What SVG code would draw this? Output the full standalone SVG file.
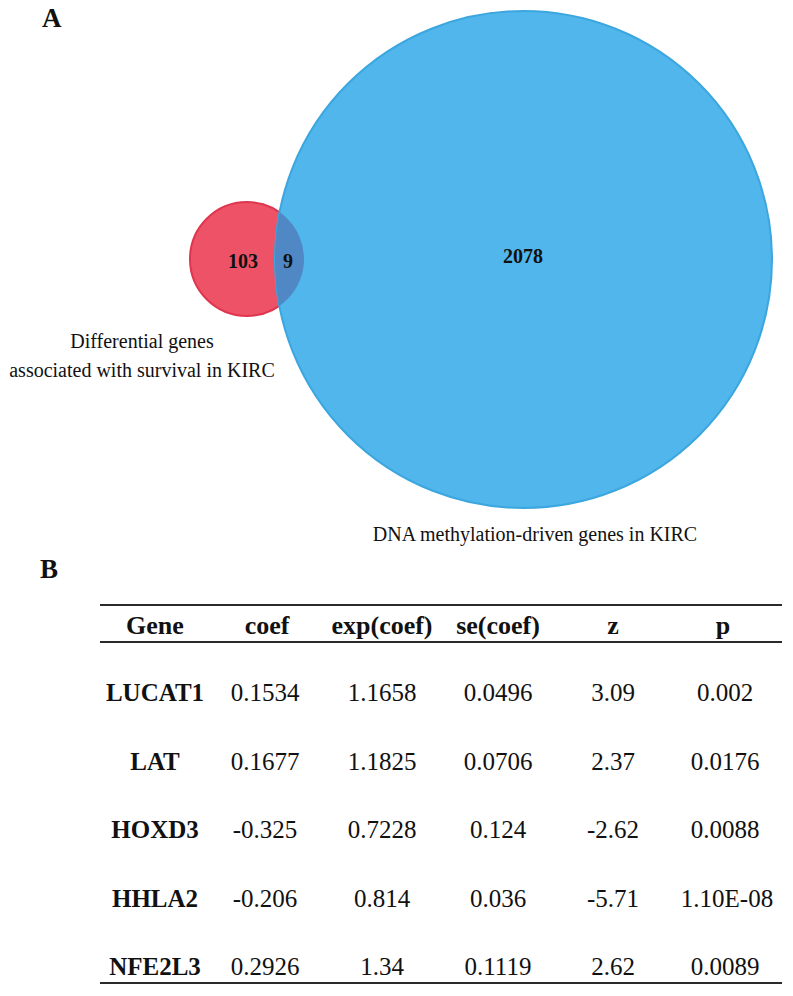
<svg xmlns="http://www.w3.org/2000/svg" width="793" height="996" viewBox="0 0 793 996">
<style>
.lab{font-size:27px;font-weight:bold}
.num{font-size:20px;font-weight:bold;text-anchor:middle}
.cap{font-size:20px;text-anchor:middle}
.hd{font-size:26px;font-weight:bold;text-anchor:middle}
.gn{font-size:25px;font-weight:bold;text-anchor:middle}
.v{font-size:25px;text-anchor:middle}
.rule{stroke:#2a2a2a;stroke-width:2}
</style>
<defs>
<clipPath id="redClip"><circle cx="247" cy="259" r="57"/></clipPath>
</defs>
<rect width="793" height="996" fill="#fff"/>
<g font-family="Liberation Serif, DejaVu Serif, serif" fill="#111">
<text class="lab" x="42" y="27">A</text>
<text class="lab" x="40" y="578">B</text>
<g id="set-survival">
<circle cx="247" cy="259" r="57" fill="#EE5267" stroke="#E0354F" stroke-width="2"/>
</g>
<g id="set-methylation">
<circle cx="523.5" cy="259.5" r="248.5" fill="#50B6EC" stroke="#3CA6DF" stroke-width="2"/>
</g>
<g id="overlap">
<circle cx="523.5" cy="259.5" r="248.5" fill="#4F88C4" clip-path="url(#redClip)"/>
</g>
<g id="connectors"></g>
<text class="num" x="243" y="268">103</text>
<text class="num" x="288" y="268">9</text>
<text class="num" x="523" y="263">2078</text>
<text class="cap" x="142" y="348">Differential genes</text>
<text class="cap" x="142" y="377">associated with survival in KIRC</text>
<text class="cap" x="535" y="541">DNA methylation-driven genes in KIRC</text>
<g id="table">
<line class="rule" x1="100" y1="605" x2="782" y2="605"/>
<line class="rule" x1="100" y1="642" x2="782" y2="642"/>
<line class="rule" x1="100" y1="983" x2="782" y2="983"/>
<text class="hd" x="155" y="634">Gene</text>
<text class="hd" x="267" y="634">coef</text>
<text class="hd" x="382" y="634">exp(coef)</text>
<text class="hd" x="498" y="634">se(coef)</text>
<text class="hd" x="613" y="634">z</text>
<text class="hd" x="723" y="634">p</text>
<text class="gn" x="155" y="701">LUCAT1</text>
<text class="v" x="265" y="701">0.1534</text>
<text class="v" x="382" y="701">1.1658</text>
<text class="v" x="498" y="701">0.0496</text>
<text class="v" x="613" y="701">3.09</text>
<text class="v" x="725" y="701">0.002</text>
<text class="gn" x="155" y="770">LAT</text>
<text class="v" x="265" y="770">0.1677</text>
<text class="v" x="382" y="770">1.1825</text>
<text class="v" x="498" y="770">0.0706</text>
<text class="v" x="613" y="770">2.37</text>
<text class="v" x="725" y="770">0.0176</text>
<text class="gn" x="155" y="838">HOXD3</text>
<text class="v" x="265" y="838">-0.325</text>
<text class="v" x="382" y="838">0.7228</text>
<text class="v" x="498" y="838">0.124</text>
<text class="v" x="613" y="838">-2.62</text>
<text class="v" x="725" y="838">0.0088</text>
<text class="gn" x="155" y="907">HHLA2</text>
<text class="v" x="265" y="907">-0.206</text>
<text class="v" x="382" y="907">0.814</text>
<text class="v" x="498" y="907">0.036</text>
<text class="v" x="613" y="907">-5.71</text>
<text class="v" x="727" y="907">1.10E-08</text>
<text class="gn" x="155" y="975">NFE2L3</text>
<text class="v" x="265" y="975">0.2926</text>
<text class="v" x="382" y="975">1.34</text>
<text class="v" x="498" y="975">0.1119</text>
<text class="v" x="613" y="975">2.62</text>
<text class="v" x="725" y="975">0.0089</text>
</g>
</g>
</svg>
